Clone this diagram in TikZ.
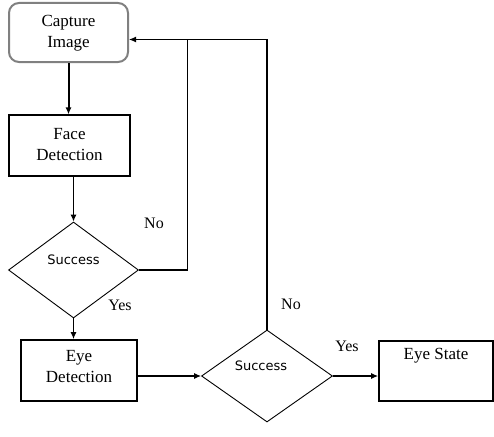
\documentclass[tikz,border=0pt]{standalone}
\usepackage{fontspec}
\setmainfont{Liberation Serif}
\newfontfamily\serf{Liberation Serif}
\newfontfamily\sansf{DejaVu Sans}
\usetikzlibrary{shapes.geometric,arrows.meta}
\newcommand{\boxfont}{\serf\fontsize{17}{21}\selectfont}
\newcommand{\twolines}[2]{\begin{tabular}{@{}c@{}}\boxfont #1\\\boxfont #2\end{tabular}}
\begin{document}
\begin{tikzpicture}[x=1pt,y=-1pt,
  procbox/.style={draw, rectangle, inner sep=0pt},
  boxtext/.style={font=\boxfont, inner sep=0pt},
  decbox/.style={draw, diamond, line width=0.9pt, inner sep=0pt},
  lbl/.style={font=\serf\fontsize{16}{19}\selectfont, inner sep=0pt},
  dectext/.style={font=\sansf\fontsize{13}{15}\selectfont, inner sep=0pt},
  conn/.style={line width=1.1pt},
  arr/.style={conn, -{Latex[length=7pt,width=6pt]}}
]
\useasboundingbox (0,0) rectangle (494,436);
\node[procbox, rounded corners=10pt, draw=gray, line width=2pt, minimum width=119, minimum height=59] (cap) at (68.5,32.5) {};
\node[boxtext] (capt) at (cap) {\twolines{Capture}{Image}};
\node[procbox, line width=1.2pt, minimum width=121, minimum height=61] (face) at (69.5,145.5) {};
\node[boxtext] (facet) at (face) {\twolines{Face}{Detection}};
\node[decbox, minimum width=130, minimum height=96] (d1) at (73.5,270) {};
\node[dectext] (d1t) at (73.5,260) {Success};
\node[procbox, line width=1.8pt, minimum width=116, minimum height=61] (eyed) at (79,370.5) {};
\node[boxtext] (eyedt) at (79,367.5) {\twolines{Eye}{Detection}};
\node[decbox, minimum width=131, minimum height=92] (d2) at (267,376) {};
\node[dectext] (d2t) at (261,366) {Success};
\node[procbox, line width=1.8pt, minimum width=114, minimum height=60] (es) at (436,371) {};
\node[boxtext] (est) at (436,356) {Eye State};
\coordinate (top1) at (187.5,39.5);
\node[lbl] (no1) at (154,223) {No};
\node[lbl] (yes1) at (120,305) {Yes};
\node[lbl] (no2) at (291,304) {No};
\node[lbl] (yes2) at (347,346) {Yes};
\draw[arr, line width=2pt] (cap.south) -- (cap.south |- face.north);
\draw[arr] (d1.north |- face.south) -- (d1.north);
\draw[arr] (d1.east) -| (top1) -- (cap.east |- top1);
\draw[conn] (d2.north) |- (top1);
\draw[arr] (d1.south) -- (d1.south |- eyed.north);
\draw[arr] (eyed.east |- d2.west) -- (d2.west);
\draw[arr] (d2.east) -- (d2.east -| es.west);
\end{tikzpicture}
\end{document}
